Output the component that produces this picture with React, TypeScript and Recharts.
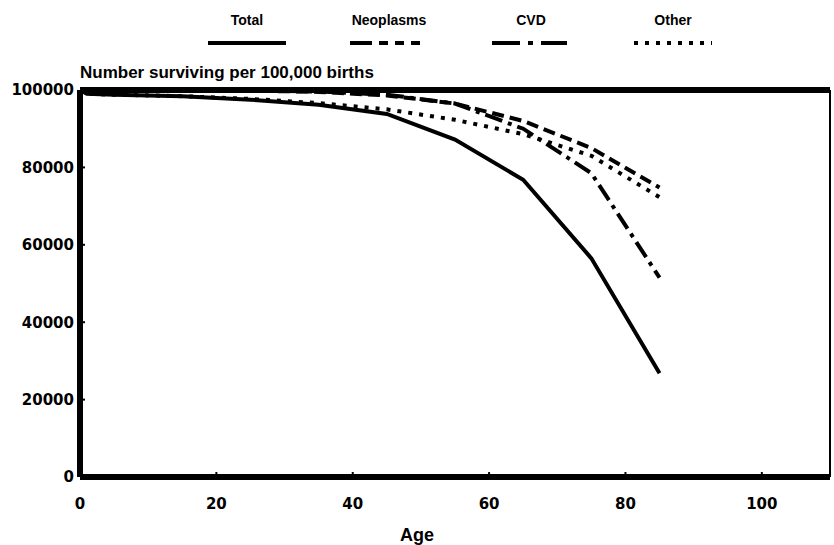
import React from 'react';
import { LineChart, Line, XAxis, YAxis, ReferenceLine, Legend } from 'recharts';

const ages = [0, 1, 5, 15, 25, 35, 45, 55, 65, 75, 85];
const total = [100000, 99000, 98800, 98400, 97500, 96200, 93800, 87200, 76800, 56500, 26800];
const neoplasms = [100000, 100000, 99990, 99950, 99850, 99500, 98600, 96500, 92000, 85000, 74800];
const cvd = [100000, 100000, 99990, 99950, 99850, 99600, 98800, 96500, 90000, 78500, 51500];
const other = [100000, 99000, 98800, 98400, 97700, 96600, 95000, 92300, 88600, 83000, 72300];

const seriesNames = ['Total', 'Neoplasms', 'CVD', 'Other'];
const xTicks = [0, 20, 40, 60, 80, 100];
const yTicks = [0, 20000, 40000, 60000, 80000, 100000];
const titleText = 'Number surviving per 100,000 births';
const xLabel = 'Age';

const data = ages.map((age, i) => ({
  age,
  Total: total[i],
  Neoplasms: neoplasms[i],
  CVD: cvd[i],
  Other: other[i],
}));

const lineStyle: Record<string, { dash?: string; legendDash?: string }> = {
  Total: {},
  Neoplasms: { dash: '12 6', legendDash: '22 7 9 7 9 7 9' },
  CVD: { dash: '18 6 4 6', legendDash: '28 8 5 8 26' },
  Other: { dash: '4 7', legendDash: '4 7' },
};

const boldFont = '"Liberation Sans", Arial, sans-serif';
const tickFont = '"DejaVu Sans", sans-serif';

const LegendContent = () => (
  <div style={{ height: 50, width: 834, position: 'relative', fontFamily: boldFont }}>
    <div style={{ display: 'flex', marginLeft: 176 }}>
      {seriesNames.map((name) => (
        <div key={name} style={{ width: 142, display: 'flex', flexDirection: 'column', alignItems: 'center' }}>
          <div style={{ fontSize: 14, fontWeight: 'bold', height: 18, lineHeight: '18px', marginTop: 11 }}>{name}</div>
          <svg width={78} height={14} style={{ marginTop: 7 }}>
            <line
              x1={0}
              y1={7}
              x2={78}
              y2={7}
              stroke="#000"
              strokeWidth={4}
              strokeDasharray={lineStyle[name].legendDash}
            />
          </svg>
        </div>
      ))}
    </div>
  </div>
);

const TitleLabel = (props: any) => {
  const vb = props.viewBox || {};
  return (
    <text
      x={vb.x}
      y={(vb.y || 0) - 12}
      fill="#000"
      fontFamily={boldFont}
      fontWeight="bold"
      fontSize={17}
    >
      {titleText}
    </text>
  );
};

const AgeLabel = (props: any) => {
  const vb = props.viewBox || {};
  return (
    <text
      x={417}
      y={(vb.y || 0) + (vb.height || 0) - 4}
      textAnchor="middle"
      fill="#000"
      fontFamily={boldFont}
      fontWeight="bold"
      fontSize={18}
    >
      {xLabel}
    </text>
  );
};

export default function App() {
  return (
    <div style={{ position: 'absolute', left: 0, top: 0, width: 834, height: 545, background: '#fff' }}>
      <LineChart
        width={834}
        height={545}
        data={data}
        margin={{ top: 40, right: 4, bottom: 0, left: 0 }}
      >
        <Legend
          verticalAlign="top"
          align="left"
          content={LegendContent as any}
          wrapperStyle={{ left: 0, top: 0, width: 834 }}
        />
        <XAxis
          dataKey="age"
          type="number"
          domain={[0, 110]}
          ticks={xTicks}
          height={68}
          axisLine={{ stroke: '#000', strokeWidth: 6 }}
          tickLine={{ stroke: '#000', strokeWidth: 2 }}
          tickSize={-5}
          tickMargin={26}
          tick={{ fill: '#000', fontFamily: tickFont, fontWeight: 'bold', fontSize: 15 }}
          label={AgeLabel as any}
        />
        <YAxis
          type="number"
          domain={[0, 100000]}
          ticks={yTicks}
          width={80}
          axisLine={{ stroke: '#000', strokeWidth: 6 }}
          tickLine={{ stroke: '#000', strokeWidth: 2 }}
          tickSize={-5}
          tickMargin={11}
          tick={{ fill: '#000', fontFamily: tickFont, fontWeight: 'bold', fontSize: 15 }}
        />
        <ReferenceLine y={100000} stroke="#000" strokeWidth={6} label={TitleLabel as any} />
        <ReferenceLine x={110} stroke="#000" strokeWidth={2} />
        {seriesNames.map((name) => (
          <Line
            key={name}
            type="linear"
            dataKey={name}
            stroke="#000"
            strokeWidth={4}
            strokeDasharray={lineStyle[name].dash}
            dot={false}
            activeDot={false}
            isAnimationActive={false}
            legendType="none"
          />
        ))}
      </LineChart>
    </div>
  );
}
